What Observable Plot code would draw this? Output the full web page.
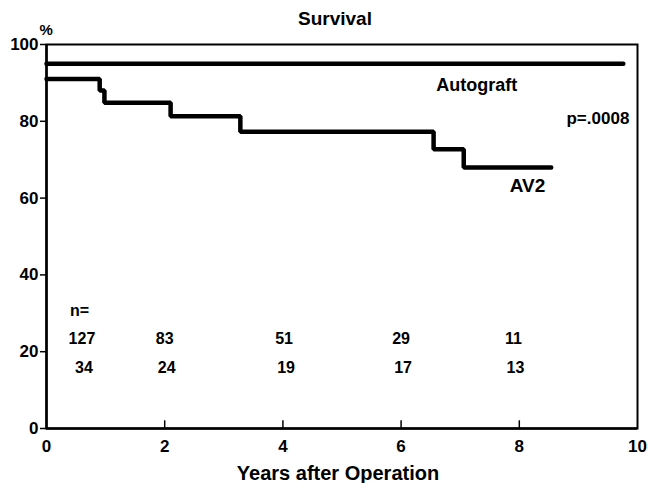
<!DOCTYPE html>
<html><head><meta charset="utf-8">
<script src="https://cdn.jsdelivr.net/npm/d3@7"></script>
<script src="https://cdn.jsdelivr.net/npm/@observablehq/plot@0.6"></script>
<style>
body{margin:0;background:#fff}
#chart svg{font-family:"Liberation Sans",Arial,sans-serif;font-weight:bold;background:#fff}
</style>
</head><body><div id="chart"></div>
<script>
const autograftYears = [0, 9.76];
const autograftSurvival = [95, 95];
const av2Years = [0, 0.9, 0.98, 2.1, 3.28, 6.55, 7.06, 8.54];
const av2Survival = [91, 88, 84.8, 81.3, 77.3, 72.7, 68, 68];
const nYears = [0.6, 2, 4.02, 6, 7.9];
const nAutograft = [127, 83, 51, 29, 11];
const nAV2 = [34, 24, 19, 17, 13];
const xTicks = [0, 2, 4, 6, 8, 10];
const yTicks = [0, 20, 40, 60, 80, 100];

const autograft = autograftYears.map((x, i) => ({x, y: autograftSurvival[i]}));
const av2 = av2Years.map((x, i) => ({x, y: av2Survival[i]}));
const nRows = nYears.map((x, i) => ({x, a: nAutograft[i], b: nAV2[i]}));

const chart = Plot.plot({
  width: 648, height: 483,
  marginLeft: 46, marginRight: 11, marginTop: 44, marginBottom: 55,
  x: {domain: [0, 10]},
  y: {domain: [0, 100]},
  style: {fontFamily: '"Liberation Sans",Arial,sans-serif', fontWeight: "bold", color: "#000"},
  marks: [
    Plot.axisY({ticks: yTicks, tickSize: 6, tickPadding: 2, fontSize: 17, label: null, strokeWidth: 1.5}),
    Plot.axisX({ticks: xTicks, tickSize: 0, tickPadding: 11, fontSize: 17, label: null}),
    Plot.ruleX(xTicks.slice(1, -1), {y1: 0, y2: 2, strokeWidth: 1.5}),
    Plot.frame({strokeWidth: 2}),
    Plot.ruleX([0], {strokeWidth: 2.5}),
    Plot.ruleY([0], {strokeWidth: 2.5}),
    Plot.line(autograft, {x: "x", y: "y", curve: "step-after", strokeWidth: 4.5, strokeLinejoin: "miter"}),
    Plot.line(av2, {x: "x", y: "y", curve: "step-after", strokeWidth: 4.5, strokeLinejoin: "miter"}),
    Plot.text(["Autograft"], {x: 7.28, y: 89.5, fontSize: 18}),
    Plot.text(["p=.0008"], {x: 9.33, y: 80.7, fontSize: 17}),
    Plot.text(["AV2"], {x: 8.14, y: 63.3, fontSize: 19}),
    Plot.text(["n="], {x: nYears[0], y: 30.7, dx: -12, textAnchor: "start", fontSize: 16}),
    Plot.text(nRows, {x: "x", y: 23.3, text: "a", fontSize: 16}),
    Plot.text(nRows, {x: "x", y: 15.8, text: "b", dx: 2, fontSize: 16}),
    Plot.text(["Survival"], {frameAnchor: "top", dx: -7, dy: -26, lineAnchor: "middle", fontSize: 19}),
    Plot.text(["%"], {frameAnchor: "top-left", dx: -7, dy: -14, lineAnchor: "middle", fontSize: 15}),
    Plot.text(["Years after Operation"], {frameAnchor: "bottom", dx: -4, dy: 45, lineAnchor: "middle", fontSize: 20})
  ]
});
document.getElementById("chart").appendChild(chart);
</script>
</body></html>
